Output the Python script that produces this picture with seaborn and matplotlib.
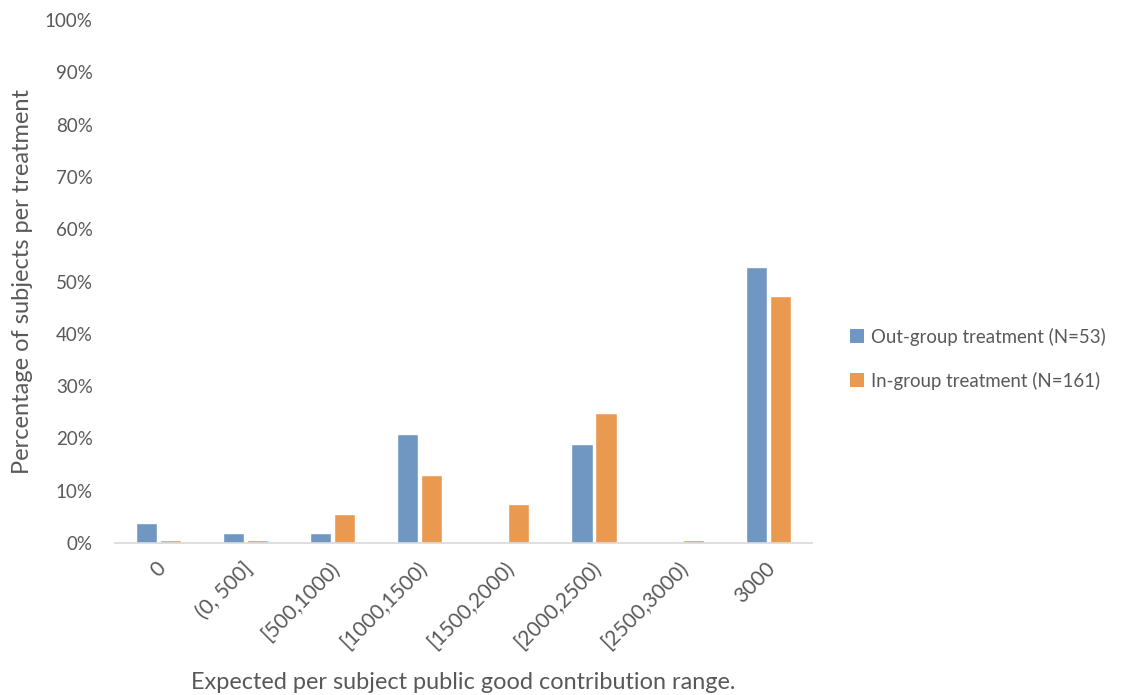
import matplotlib
matplotlib.use("Agg")
import matplotlib.pyplot as plt
from matplotlib.ticker import PercentFormatter
from matplotlib.patches import Patch
from matplotlib.transforms import ScaledTranslation
import seaborn as sns
import pandas as pd

# Contribution ranges and share of subjects in each range
categories = ["0", "(0, 500]", "[500,1000)", "[1000,1500)", "[1500,2000)",
              "[2000,2500)", "[2500,3000)", "3000"]
out_group = [0.038, 0.019, 0.019, 0.208, 0.0, 0.189, 0.0, 0.528]
in_group = [0.006, 0.006, 0.056, 0.130, 0.075, 0.248, 0.006, 0.472]
series_names = ["Out-group treatment (N=53)", "In-group treatment (N=161)"]
colors = ["#7097c1", "#ea9a50"]

df = pd.DataFrame({
    "range": categories * 2,
    "share": out_group + in_group,
    "treatment": [series_names[0]] * len(categories) + [series_names[1]] * len(categories),
})

sns.set_theme(style="white")
plt.rcParams["font.family"] = ["Lato", "DejaVu Sans"]
text_color = "#595959"

fig = plt.figure(figsize=(11.37, 6.95), dpi=100)
ax = fig.add_axes([0.101, 0.2187, 0.613, 0.7523])

sns.barplot(data=df, x="range", y="share", hue="treatment", order=categories,
            hue_order=series_names, palette=colors, width=0.55, gap=0.12,
            saturation=1, ax=ax, legend=False)

ax.set_ylim(0, 1)
ax.set_xlim(-0.5, len(categories) - 0.5)
ax.set_yticks([i / 10 for i in range(11)])
ax.yaxis.set_major_formatter(PercentFormatter(1.0, decimals=0))
ax.tick_params(axis="y", labelsize=13.5, colors=text_color, length=0, pad=16)
ax.tick_params(axis="x", labelsize=15, colors=text_color, length=0, pad=16)
# rotated category labels end just right of each group's centre
shift = ScaledTranslation(4 / 100, 0, fig.dpi_scale_trans)
for lab in ax.get_xticklabels():
    lab.set_rotation(45)
    lab.set_ha("right")
    lab.set_va("center")
    lab.set_rotation_mode("anchor")
    lab.set_transform(lab.get_transform() + shift)

for side in ["top", "right", "left"]:
    ax.spines[side].set_visible(False)
ax.spines["bottom"].set_color("#d9d9d9")
ax.spines["bottom"].set_linewidth(1.2)

ax.set_xlabel("Expected per subject public good contribution range.",
              fontsize=16.9, color=text_color, labelpad=14)
ax.set_ylabel("Percentage of subjects per treatment", fontsize=17,
              color=text_color)
ax.yaxis.set_label_coords(-0.118, 0.5)

handles = [Patch(facecolor=c, edgecolor="none") for c in colors]
fig.legend(handles, series_names, loc="center left",
           bbox_to_anchor=(0.733, 0.484), frameon=False, fontsize=13.4,
           labelcolor=text_color, handlelength=0.75, handleheight=0.75,
           handletextpad=0.35, labelspacing=1.4)

fig.savefig("out.png", dpi=100)
